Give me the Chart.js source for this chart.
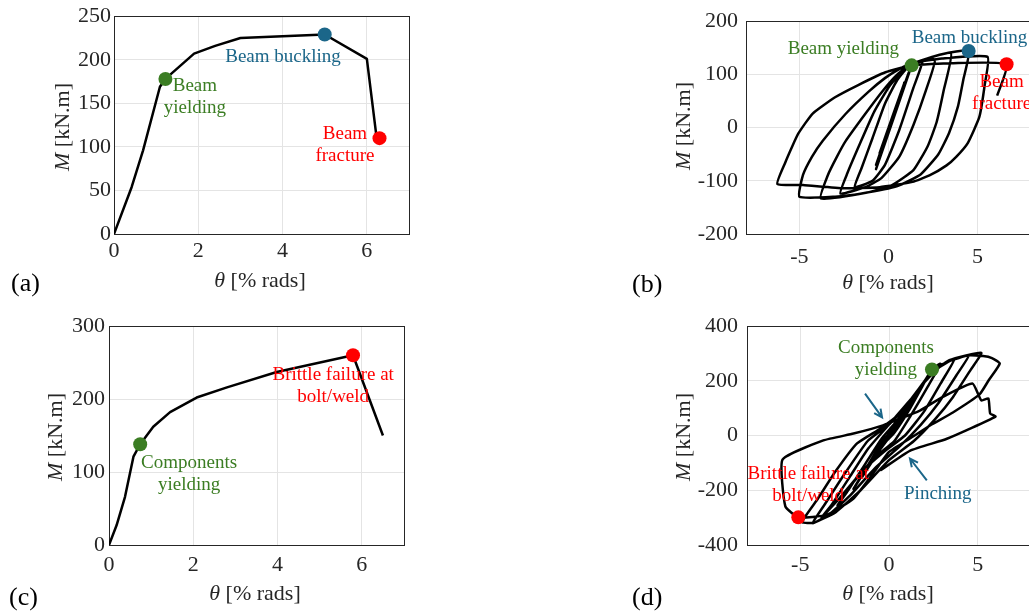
<!DOCTYPE html>
<html>
<head>
<meta charset="utf-8">
<script src="https://cdn.jsdelivr.net/npm/chart.js@4.4.0/dist/chart.umd.min.js"></script>
<style>
  html, body { margin: 0; padding: 0; background: #fff; overflow: hidden; width: 1029px; height: 614px; }
  canvas { position: absolute; }
  .lbl { position: absolute; font-family: 'Liberation Serif', 'Times New Roman', serif; color: #262626;
         white-space: nowrap; line-height: 1; transform: translate(-50%, -50%); }
  .ttl { font-size: 22px; }
  .rot { transform: translate(-50%, -50%) rotate(-90deg); }
  .panel { font-size: 26px; color: #000; transform: translate(0, -50%); }
</style>
</head>
<body>
<canvas id="chartA" width="420" height="300" style="left:0;top:0"></canvas>
<canvas id="chartB" width="420" height="300" style="left:620px;top:0"></canvas>
<canvas id="chartC" width="420" height="314" style="left:0;top:300px"></canvas>
<canvas id="chartD" width="420" height="314" style="left:620px;top:300px"></canvas>

<div class="lbl ttl" style="left:260px;top:280px"><i>θ</i> [% rads]</div>
<div class="lbl ttl rot" style="left:62px;top:127px"><i>M</i> [kN.m]</div>
<div class="lbl ttl" style="left:888px;top:282px"><i>θ</i> [% rads]</div>
<div class="lbl ttl rot" style="left:683px;top:126px"><i>M</i> [kN.m]</div>
<div class="lbl ttl" style="left:255px;top:593px"><i>θ</i> [% rads]</div>
<div class="lbl ttl rot" style="left:55px;top:437px"><i>M</i> [kN.m]</div>
<div class="lbl ttl" style="left:888px;top:593px"><i>θ</i> [% rads]</div>
<div class="lbl ttl rot" style="left:683px;top:437px"><i>M</i> [kN.m]</div>

<div class="lbl panel" style="left:11px;top:283px">(a)</div>
<div class="lbl panel" style="left:632px;top:284px">(b)</div>
<div class="lbl panel" style="left:9px;top:597px">(c)</div>
<div class="lbl panel" style="left:632px;top:597px">(d)</div>

<script>
// Moment-rotation curves (theta in % rads, M in kN.m)

// (a) beam, monotonic
const thetaA = [0, 0.42, 0.69, 1.09, 1.22, 1.9, 2.4, 3.0, 4.0, 5.0, 6.0, 6.22, 6.3];
const momentA = [0, 54, 96, 169, 178, 207, 216, 225, 227, 229, 201, 115, 110];
const yieldA = [1.22, 178];
const buckleA = [5.0, 229];
const fractureA = [6.3, 110];

// (b) beam, cyclic
const thetaB = [0, 0.6, -0.5, 0.9, -0.7, 1.3, -0.7, 1.3, 1.9, 1.4, 0.6, -0.2, -0.9, -1.9,
  -1.5, -0.9, -0.2, 0.5, 1.2, 2.6, 2.1, 1.4, 0.6, -0.4, -1.3, -2.7,
  -2.3, -1.6, -0.8, 0.1, 1.2, 3.5, 3.1, 2.7, 2.2, 1.4, 0.2, -1.2, -3.8,
  -3.4, -2.9, -2.4, -1.3, -0.35, 0.5, 1.3, 3.0, 4.5, 4.2, 3.9, 3.4, 2.8, 1.8, 0.5, -1.5, -3.0, -5.0,
  -4.8, -4.3, -3.7, -2.4, -1.1, -0.2, 0.6, 1.3, 3.0, 5.56, 5.4, 5.1, 4.45, 3.8, 3.26, 2.3, 1.35, -0.5, -2.5, -4.8, -6.24,
  -5.8, -5.4, -5.06, -4.27, -3.0, -1.7, -0.17, 1.3, 3.5, 6.63, 6.1];
const momentB = [0, 55, -48, 85, -70, 117, -78, 117, 124, 75, -5, -70, -100, -112,
  -75, -20, 45, 90, 117, 128, 70, 5, -55, -95, -112, -124,
  -85, -30, 30, 80, 118, 140, 70, 10, -35, -80, -108, -122, -133,
  -89, -55, -25, 26, 68, 100, 120, 138, 144, 90, 40, -10, -50, -88, -110, -124, -130, -130,
  -89, -55, -25, 26, 68, 93, 110, 121, 130, 133, 80, 20, -29, -55, -71, -90, -102, -112, -114, -108, -106,
  -66, -35, -11, 26, 57, 80, 104, 117, 121, 119, 60];
const yieldB = [1.3, 117];
const buckleB = [4.5, 144];
const fractureB = [6.63, 119];

// (c) connection, monotonic
const thetaC = [0, 0.18, 0.38, 0.58, 0.74, 1.05, 1.45, 2.08, 2.8, 3.98, 5.79, 6.5];
const momentC = [0, 27, 66, 121, 138, 162, 182, 202, 216, 237, 260, 150];
const yieldC = [0.74, 138];
const brittleC = [5.79, 260];

// (d) connection, cyclic with pinching
const thetaD = [0, 0.5, -0.5, 1.0, -1.0, 1.5, 0.6, -0.2, -1.5, -0.6, 0.2,
  2.0, 1.2, 0.3, -0.5, -2.0, -1.2, -0.3, 0.5, 2.42,
  2.9, 2.2, 1.2, 0.3, -0.8, -2.0, -2.9, -2.3, -1.3, -0.4, 0.4, 1.5, 2.5,
  3.7, 3.0, 2.0, 0.9, -0.3, -1.5, -2.8, -3.8, -3.2, -2.2, -1.2, 0, 1.2, 2.4, 3.5,
  4.5, 3.8, 2.8, 1.8, 0.6, -0.8, -2.2, -3.4, -4.3, -3.5, -2.5, -1.2, 0, 1.0, 2.2, 3.4,
  5.2, 4.6, 3.6, 2.6, 1.4, 0, -1.6, -3.0, -4.2, -4.9, -4.0, -3.0, -1.8, -0.5, 0.6, 1.8, 3.0, 4.4, 5.3, 5.8, 6.24,
  5.6, 5.1, 3.6, 2.4, 1.2, 0, -0.8, -2.0, -3.5, -5.11,
  -5.84, -6.0, -3.7, -2.0, -0.34, 1.74, 3.0, 4.7, 5.2, 5.6, 5.7, 6.0, 3.26, 1.2, -0.5];
const momentD = [0, 48, -48, 98, -98, 148, 55, -10, -150, -60, 10,
  195, 100, 10, -45, -195, -110, -15, 40, 241,
  262, 180, 70, -20, -80, -170, -255, -200, -100, -10, 50, 150, 235,
  280, 200, 90, 0, -60, -130, -230, -300, -250, -150, -50, 40, 130, 230, 275,
  293, 220, 120, 40, -40, -120, -220, -290, -320, -240, -140, -20, 40, 110, 215, 275,
  302, 240, 140, 60, -20, -90, -200, -280, -318, -316, -230, -130, -29, 25, 80, 180, 260, 292, 290, 283, 263,
  200, 150, 84, 40, -10, -60, -130, -230, -290, -299,
  -259, -88, -18, 7, 37, 91, 140, 190, 128, 135, 80, 69, -12, -55, -128];
const yieldD = [2.42, 241];
const brittleD = [-5.11, -299];

const GREEN = '#3b7d23';
const BLUE = '#1b6689';
const RED = '#ff0000';
const AXIS = '#262626';
const GRID = '#e4e4e4';
const SERIF = '"Liberation Serif", "Times New Roman", serif';

const pts = (xs, ys) => xs.map((x, i) => ({ x: x, y: ys[i] }));

function curve(xs, ys, tension) {
  return {
    data: pts(xs, ys), showLine: true, borderColor: '#000', borderWidth: 2.5,
    borderJoinStyle: 'round', pointRadius: 0, tension: tension, order: 2
  };
}

function marker(p, color) {
  return {
    data: [{ x: p[0], y: p[1] }], pointRadius: 7, pointBackgroundColor: color,
    pointBorderWidth: 0, showLine: false, clip: false, order: 1
  };
}

// axes box, text notes and arrows drawn in data coordinates
const notesPlugin = {
  id: 'notes',
  beforeDatasetsDraw(chart) {
    const a = chart.chartArea, ctx = chart.ctx;
    ctx.save();
    ctx.strokeStyle = AXIS;
    ctx.lineWidth = 1;
    ctx.strokeRect(Math.round(a.left) + 0.5, Math.round(a.top) + 0.5,
      Math.round(a.right - a.left), Math.round(a.bottom - a.top));
    ctx.restore();
  },
  afterDatasetsDraw(chart, args, opts) {
    const ctx = chart.ctx, x = chart.scales.x, y = chart.scales.y;
    ctx.save();
    (opts.arrows || []).forEach(ar => {
      const x0 = x.getPixelForValue(ar.from[0]), y0 = y.getPixelForValue(ar.from[1]);
      const x1 = x.getPixelForValue(ar.to[0]), y1 = y.getPixelForValue(ar.to[1]);
      const ang = Math.atan2(y1 - y0, x1 - x0);
      ctx.strokeStyle = ar.color;
      ctx.lineWidth = 2;
      ctx.beginPath();
      ctx.moveTo(x0, y0);
      ctx.lineTo(x1, y1);
      ctx.moveTo(x1 - 9 * Math.cos(ang - 0.45), y1 - 9 * Math.sin(ang - 0.45));
      ctx.lineTo(x1, y1);
      ctx.lineTo(x1 - 9 * Math.cos(ang + 0.45), y1 - 9 * Math.sin(ang + 0.45));
      ctx.stroke();
    });
    ctx.font = '19px ' + SERIF;
    ctx.textAlign = 'center';
    ctx.textBaseline = 'middle';
    (opts.items || []).forEach(n => {
      const px = x.getPixelForValue(n.at[0]), py = y.getPixelForValue(n.at[1]);
      ctx.fillStyle = n.color;
      n.lines.forEach((t, i) => ctx.fillText(t, px, py + i * 22));
    });
    ctx.restore();
  }
};

function buildChart(id, cfg) {
  const canvas = document.getElementById(id);
  const W = canvas.width, H = canvas.height;
  const a = cfg.area; // left, top, right, bottom of the plot box inside the canvas
  const tickFont = { family: SERIF, size: 22 };
  return new Chart(canvas, {
    type: 'scatter',
    data: { datasets: cfg.datasets },
    options: {
      responsive: false,
      animation: false,
      events: [],
      layout: { padding: { left: 0, top: a[1], right: W - a[2], bottom: 0 } },
      plugins: { legend: { display: false }, tooltip: { enabled: false }, notes: cfg.notes },
      scales: {
        x: {
          type: 'linear', min: cfg.xRange[0], max: cfg.xRange[1],
          afterBuildTicks: s => { s.ticks = cfg.xTicks.map(v => ({ value: v })); },
          afterFit: s => { s.height = H - a[3]; },
          ticks: { callback: v => String(v), font: tickFont, color: AXIS, padding: cfg.xPad, maxRotation: 0, autoSkip: false },
          grid: { color: GRID, drawTicks: false },
          border: { color: AXIS }
        },
        y: {
          type: 'linear', min: cfg.yRange[0], max: cfg.yRange[1],
          afterBuildTicks: s => { s.ticks = cfg.yTicks.map(v => ({ value: v })); },
          afterFit: s => { s.width = a[0]; },
          ticks: { callback: v => String(v), font: tickFont, color: AXIS, padding: cfg.yPad, autoSkip: false },
          grid: { color: GRID, drawTicks: false },
          border: { color: AXIS }
        }
      }
    },
    plugins: [notesPlugin]
  });
}

buildChart('chartA', {
  area: [114, 15, 409, 234], xPad: 4, yPad: 3,
  xRange: [0, 7], xTicks: [0, 2, 4, 6],
  yRange: [0, 250], yTicks: [0, 50, 100, 150, 200, 250],
  datasets: [curve(thetaA, momentA, 0), marker(yieldA, GREEN), marker(buckleA, BLUE), marker(fractureA, RED)],
  notes: {
    items: [
      { at: [4.01, 203], lines: ['Beam buckling'], color: BLUE },
      { at: [1.92, 170], lines: ['Beam', 'yielding'], color: GREEN },
      { at: [5.48, 115], lines: ['Beam', 'fracture'], color: RED }
    ]
  }
});

buildChart('chartB', {
  area: [126, 15, 411, 234], xPad: 10, yPad: 8,
  xRange: [-8, 8], xTicks: [-5, 0, 5],
  yRange: [-200, 200], yTicks: [-200, -100, 0, 100, 200],
  datasets: [curve(thetaB, momentB, 0.15), marker(yieldB, GREEN), marker(buckleB, BLUE), marker(fractureB, RED)],
  notes: {
    items: [
      { at: [-2.53, 148], lines: ['Beam yielding'], color: GREEN },
      { at: [4.55, 168], lines: ['Beam buckling'], color: BLUE },
      { at: [6.35, 86], lines: ['Beam', 'fracture'], color: RED }
    ]
  }
});

buildChart('chartC', {
  area: [109, 26, 404, 245], xPad: 7, yPad: 4,
  xRange: [0, 7], xTicks: [0, 2, 4, 6],
  yRange: [0, 300], yTicks: [0, 100, 200, 300],
  datasets: [curve(thetaC, momentC, 0), marker(yieldC, GREEN), marker(brittleC, RED)],
  notes: {
    items: [
      { at: [1.9, 112], lines: ['Components', 'yielding'], color: GREEN },
      { at: [5.32, 233], lines: ['Brittle failure at', 'bolt/weld'], color: RED }
    ]
  }
});

buildChart('chartD', {
  area: [127, 26, 411, 245], xPad: 7, yPad: 9,
  xRange: [-8, 8], xTicks: [-5, 0, 5],
  yRange: [-400, 400], yTicks: [-400, -200, 0, 200, 400],
  datasets: [curve(thetaD, momentD, 0.15), marker(yieldD, GREEN), marker(brittleD, RED)],
  notes: {
    arrows: [
      { from: [-1.35, 153], to: [-0.39, 66], color: BLUE },
      { from: [2.13, -164], to: [1.18, -84], color: BLUE }
    ],
    items: [
      { at: [-0.17, 318], lines: ['Components', 'yielding'], color: GREEN },
      { at: [-4.55, -139], lines: ['Brittle failure at', 'bolt/weld'], color: RED },
      { at: [2.75, -212], lines: ['Pinching'], color: BLUE }
    ]
  }
});
</script>
</body>
</html>
